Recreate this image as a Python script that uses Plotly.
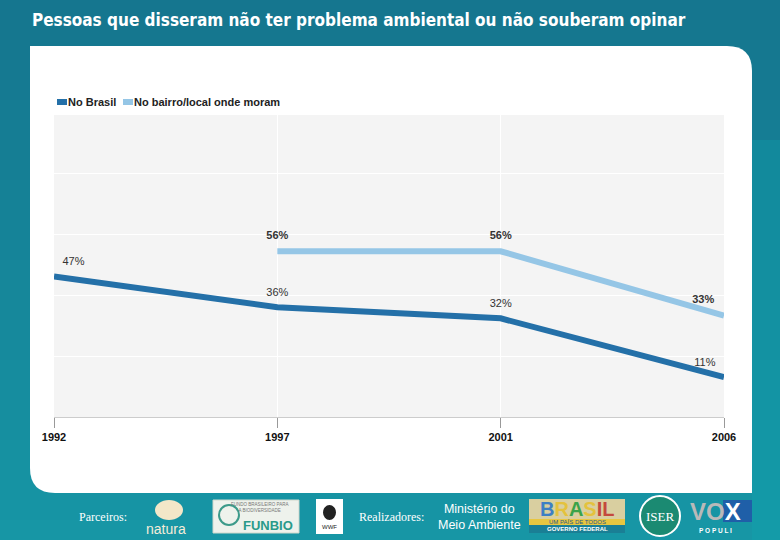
import plotly.graph_objects as go

# ---------------- data ----------------
years = ["1992", "1997", "2001", "2006"]
no_brasil = [47, 36, 32, 11]
no_bairro = [None, 56, 56, 33]
series_names = ["No Brasil", "No bairro/local onde moram"]
title_text = "Pessoas que disseram não ter problema ambiental ou não souberam opinar"
brasil_text_pos = ["top right", "top center", "top center", "top left"]
bairro_text_pos = ["top center", "top center", "top center", "top left"]

# ---------------- geometry helpers ----------------
FW, FH = 780, 540
L, R, T, B = 54, 724, 115, 417
PW, PH = R - L, B - T


def fx(x):
    return (x - L) / PW


def fy(y):
    return (B - y) / PH


def pt(x, y):
    return f"{fx(x):.5f},{fy(y):.5f}"


DARK = "#2470a8"
LIGHT = "#95c6e6"

fig = go.Figure()
fig.add_trace(go.Scatter(
    x=years, y=no_brasil, mode="lines+markers+text", name=series_names[0],
    line=dict(color=DARK, width=6), marker=dict(size=12, opacity=0, color=DARK),
    text=[f"{v}%" for v in no_brasil], textposition=brasil_text_pos,
    textfont=dict(size=11, color="#333333", family="Liberation Sans Narrow, Liberation Sans"),
    showlegend=False, cliponaxis=False, hoverinfo="skip"))
fig.add_trace(go.Scatter(
    x=years, y=no_bairro, mode="lines+markers+text", name=series_names[1],
    line=dict(color=LIGHT, width=6), marker=dict(size=14, opacity=0, color=LIGHT),
    text=["" if v is None else f"<b>{v}%</b>" for v in no_bairro], textposition=bairro_text_pos,
    textfont=dict(size=11, color="#333333", family="Liberation Sans"),
    showlegend=False, cliponaxis=False, hoverinfo="skip"))

shapes = []
# gradient background bands
top_c = (0x15, 0x76, 0x8f)
bot_c = (0x17, 0x96, 0xa5)
n = 27
for i in range(n):
    t = i / (n - 1)
    c = tuple(int(top_c[k] + (bot_c[k] - top_c[k]) * t) for k in range(3))
    y0 = i * FH / n
    y1 = (i + 1) * FH / n + 1
    shapes.append(dict(type="rect", xref="paper", yref="paper", layer="below",
                       x0=fx(-5), x1=fx(FW + 5), y0=fy(y0), y1=fy(y1),
                       fillcolor="rgb(%d,%d,%d)" % c, line=dict(width=0)))
# slightly more cyan band on the right edge
shapes.append(dict(type="rect", xref="paper", yref="paper", layer="below",
                   x0=fx(752), x1=fx(FW + 5), y0=fy(140), y1=fy(FH + 5),
                   fillcolor="rgba(10,170,180,0.25)", line=dict(width=0)))
# white panel
panel = ("M " + pt(30, 46) + " L " + pt(727, 46) + " Q " + pt(752, 46) + " " + pt(752, 71)
         + " L " + pt(752, 493) + " L " + pt(55, 493) + " Q " + pt(30, 493) + " " + pt(30, 468) + " Z")
shapes.append(dict(type="path", xref="paper", yref="paper", layer="below", path=panel,
                   fillcolor="#ffffff", line=dict(width=0)))
# plot area background
shapes.append(dict(type="rect", xref="paper", yref="paper", layer="below",
                   x0=0, x1=1, y0=0, y1=1, fillcolor="#f4f4f4", line=dict(width=0)))
# legend swatches
shapes.append(dict(type="line", xref="paper", yref="paper", x0=fx(57), x1=fx(67), y0=fy(102), y1=fy(102),
                   line=dict(color=DARK, width=6)))
shapes.append(dict(type="line", xref="paper", yref="paper", x0=fx(123), x1=fx(133), y0=fy(102), y1=fy(102),
                   line=dict(color=LIGHT, width=6)))

# ---- logo approximations ----
shapes.append(dict(type="circle", xref="paper", yref="paper", x0=fx(155), x1=fx(183), y0=fy(500), y1=fy(520),
                   fillcolor="#f3e7c8", line=dict(width=0)))
shapes.append(dict(type="rect", xref="paper", yref="paper", x0=fx(213), x1=fx(299), y0=fy(500), y1=fy(533),
                   fillcolor="#eef2ec", line=dict(color="#cfd8cc", width=1)))
shapes.append(dict(type="circle", xref="paper", yref="paper", x0=fx(219), x1=fx(239), y0=fy(505), y1=fy(525),
                   fillcolor="rgba(0,0,0,0)", line=dict(color="#3c9a8a", width=2)))
shapes.append(dict(type="rect", xref="paper", yref="paper", x0=fx(316), x1=fx(343), y0=fy(499), y1=fy(534),
                   fillcolor="#ffffff", line=dict(width=0)))
shapes.append(dict(type="circle", xref="paper", yref="paper", x0=fx(323), x1=fx(336), y0=fy(505), y1=fy(520),
                   fillcolor="#222222", line=dict(width=0)))
shapes.append(dict(type="rect", xref="paper", yref="paper", x0=fx(529), x1=fx(625), y0=fy(499), y1=fy(532),
                   fillcolor="#d9cfa0", line=dict(width=0)))
shapes.append(dict(type="rect", xref="paper", yref="paper", x0=fx(529), x1=fx(625), y0=fy(519), y1=fy(525),
                   fillcolor="#e8c640", line=dict(width=0)))
shapes.append(dict(type="rect", xref="paper", yref="paper", x0=fx(529), x1=fx(625), y0=fy(525), y1=fy(533),
                   fillcolor="#1a7f95", line=dict(width=0)))
shapes.append(dict(type="circle", xref="paper", yref="paper", x0=fx(640), x1=fx(680), y0=fy(496), y1=fy(536),
                   fillcolor="#1b8a72", line=dict(color="#ffffff", width=2)))
shapes.append(dict(type="rect", xref="paper", yref="paper", x0=fx(723), x1=fx(752), y0=fy(500), y1=fy(522),
                   fillcolor="#1f5fa8", line=dict(width=0)))

annotations = []


def ann(x, y, text, size, color="#ffffff", family="Liberation Sans", xanchor="left", yanchor="middle", weight=None):
    f = dict(size=size, color=color, family=family)
    if weight:
        f["weight"] = weight
    annotations.append(dict(xref="paper", yref="paper", x=fx(x), y=fy(y), text=text, showarrow=False,
                            xanchor=xanchor, yanchor=yanchor, borderpad=0, font=f))


# title
ann(31, 20, title_text, 17, family="DejaVu Sans Condensed", weight="bold")
# legend text
ann(67, 102, "<b>" + series_names[0] + "</b>", 11, color="#222222")
ann(133, 102, "<b>" + series_names[1] + "</b>", 11, color="#222222")

# bottom logos text
ann(78, 517, "Parceiros:", 12, family="Liberation Serif")
ann(166, 529, "natura", 14, color="#f4ecd8", family="Liberation Sans", xanchor="center")
ann(259, 507, "FUNDO BRASILEIRO PARA<br>A BIODIVERSIDADE", 4.5, color="#777777", xanchor="center")
ann(268, 525, "<b>FUNBIO</b>", 13, color="#2a9a8a", xanchor="center")
ann(329.5, 527, "WWF", 6, color="#222222", xanchor="center")
ann(358, 517, "Realizadores:", 12, family="Liberation Serif")
ann(479, 517, "Ministério do<br>Meio Ambiente", 12.5, xanchor="center",
    family="Liberation Sans Narrow, Liberation Sans")
ann(577, 509, "<b><span style='color:#3d7fc4'>B</span><span style='color:#e4c23c'>R</span>"
    "<span style='color:#3aa34a'>A</span><span style='color:#e4c23c'>S</span>"
    "<span style='color:#c4493c'>I</span><span style='color:#c4493c'>L</span></b>", 20, xanchor="center")
ann(577, 522, "UM PAÍS DE TODOS", 6, color="#2a5a8a", xanchor="center")
ann(577, 529, "<b>GOVERNO FEDERAL</b>", 6, xanchor="center")
ann(660, 516, "ISER", 13, family="Liberation Serif", xanchor="center")
ann(715, 511, "<b><span style='color:#b9b9b9'>VO</span><span style='color:#ffffff'>X</span></b>", 24,
    xanchor="center", family="Liberation Sans")
ann(715, 530, "<b>P O P U L I</b>", 6.5, xanchor="center")

fig.update_layout(
    width=FW, height=FH,
    margin=dict(l=L, r=FW - R, t=T, b=FH - B, pad=0),
    paper_bgcolor="#157890",
    plot_bgcolor="rgba(0,0,0,0)",
    showlegend=False,
    shapes=shapes,
    annotations=annotations,
    xaxis=dict(type="category", range=[0, 3], showgrid=True, gridcolor="#ffffff", gridwidth=1,
               showline=True, linecolor="#cccccc", linewidth=1, ticks="outside", ticklen=10,
               tickcolor="#999999", tickwidth=1, zeroline=False,
               tickfont=dict(size=11, color="#111111", family="Liberation Sans Narrow, Liberation Sans",
                             weight="bold")),
    yaxis=dict(range=[-3.33, 104.8], showticklabels=False, showgrid=True, gridcolor="#ffffff",
               gridwidth=1, tick0=-3.3, dtick=21.8, zeroline=False, showline=False, ticks=""),
)

fig.write_html("out.html", config={"displayModeBar": False},
               post_script="document.body.style.margin='0';document.body.style.overflow='hidden';")
